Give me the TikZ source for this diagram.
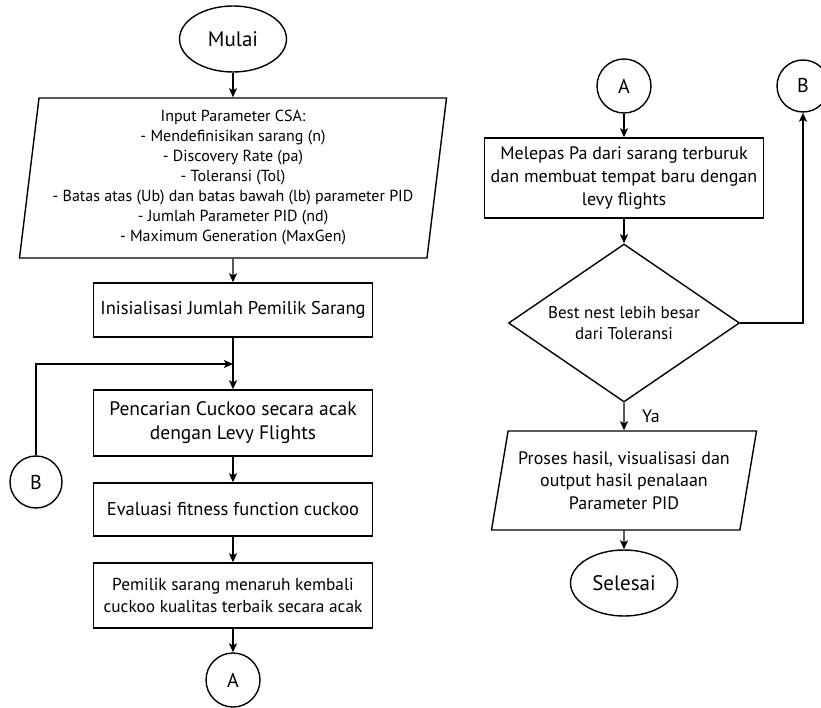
\documentclass[tikz,border=0pt]{standalone}
\usepackage{fontspec}
\setmainfont{PT Sans}
\usetikzlibrary{arrows.meta,positioning,shapes.geometric}

\begin{document}
\begin{tikzpicture}[
    x=1pt, y=-1pt,
    base/.style={draw=black, line width=1.4pt, align=center, font=\fontsize{18.5}{23}\selectfont, inner sep=2pt},
    terminal/.style={base, ellipse, minimum width=107pt, minimum height=66pt, font=\fontsize{21}{25}\selectfont},
    process/.style={base, rectangle, minimum width=279pt},
    io/.style={base, trapezium, trapezium stretches body},
    decision/.style={base, diamond, aspect=1.46, minimum width=231pt, minimum height=158pt, inner sep=0pt, font=\fontsize{17}{21}\selectfont},
    connector/.style={base, circle, minimum size=54pt, font=\fontsize{20}{22}\selectfont},
    flow/.style={-{Stealth[length=9pt, width=8pt, inset=2pt]}, line width=1.4pt, draw=black}
]
    \useasboundingbox (0,0) rectangle (821,708);

    % kolom kiri
    \node (mulai) [terminal] at (233,39) {Mulai};
    \node (input) [io, trapezium left angle=82, trapezium right angle=98, minimum width=427pt, minimum height=160pt, font=\fontsize{16}{20}\selectfont] at (233,178)
        {Input Parameter CSA:\\- Mendefinisikan sarang (n)\\- Discovery Rate (pa)\\- Toleransi (Tol)\\- Batas atas (Ub) dan batas bawah (lb) parameter PID\\- Jumlah Parameter PID (nd)\\- Maximum Generation (MaxGen)};
    \node (init) [process, minimum height=54pt] at (233,310) {Inisialisasi Jumlah Pemilik Sarang};
    \node (cari) [process, minimum height=66pt, font=\fontsize{19.5}{24}\selectfont] at (233,423) {Pencarian Cuckoo secara acak\\dengan Levy Flights};
    \node (eval) [process, minimum height=53pt] at (233,509.5) {Evaluasi fitness function cuckoo};
    \node (ganti) [process, minimum height=65pt, font=\fontsize{17.3}{22}\selectfont] at (233,595.5) {Pemilik sarang menaruh kembali\\cuckoo kualitas terbaik secara acak};
    \node (keA) [connector] at (233,680) {A};
    \node (dariB) [connector, minimum size=52pt] at (36,482) {B};
    \coordinate (gabung) at (233,364);

    % kolom kanan
    \node (dariA) [connector] at (624,86) {A};
    \node (keB) [connector, minimum size=52pt] at (803,86) {B};
    \node (lepas) [process, minimum height=80pt, font=\fontsize{18}{23}\selectfont] at (624,178) {Melepas Pa dari sarang terburuk\\dan membuat tempat baru dengan\\levy flights};
    \node (cek) [decision] at (624,323) {Best nest lebih besar\\dari Toleransi};
    \node (hasil) [io, trapezium left angle=75, trapezium right angle=105, minimum width=265pt, minimum height=99pt, font=\fontsize{18}{22.5}\selectfont] at (624,480.5)
        {Proses hasil, visualisasi dan\\output hasil penalaan\\Parameter PID};
    \node (selesai) [terminal] at (624,583) {Selesai};

    \draw [flow] (mulai) -- (input);
    \draw [flow] (input) -- (init);
    \draw [flow] (init) -- (cari);
    \draw [flow] (dariB) |- (gabung);
    \draw [flow] (cari) -- (eval);
    \draw [flow] (eval) -- (ganti);
    \draw [flow] (ganti) -- (keA);

    \draw [flow] (dariA) -- (lepas);
    \draw [flow] (lepas) -- (cek);
    \draw [flow] (cek) -| (keB);
    \draw [flow] (cek) -- node[right=14pt, font=\fontsize{18}{20}\selectfont] {Ya} (hasil);
    \draw [flow] (hasil) -- (selesai);
\end{tikzpicture}
\end{document}
